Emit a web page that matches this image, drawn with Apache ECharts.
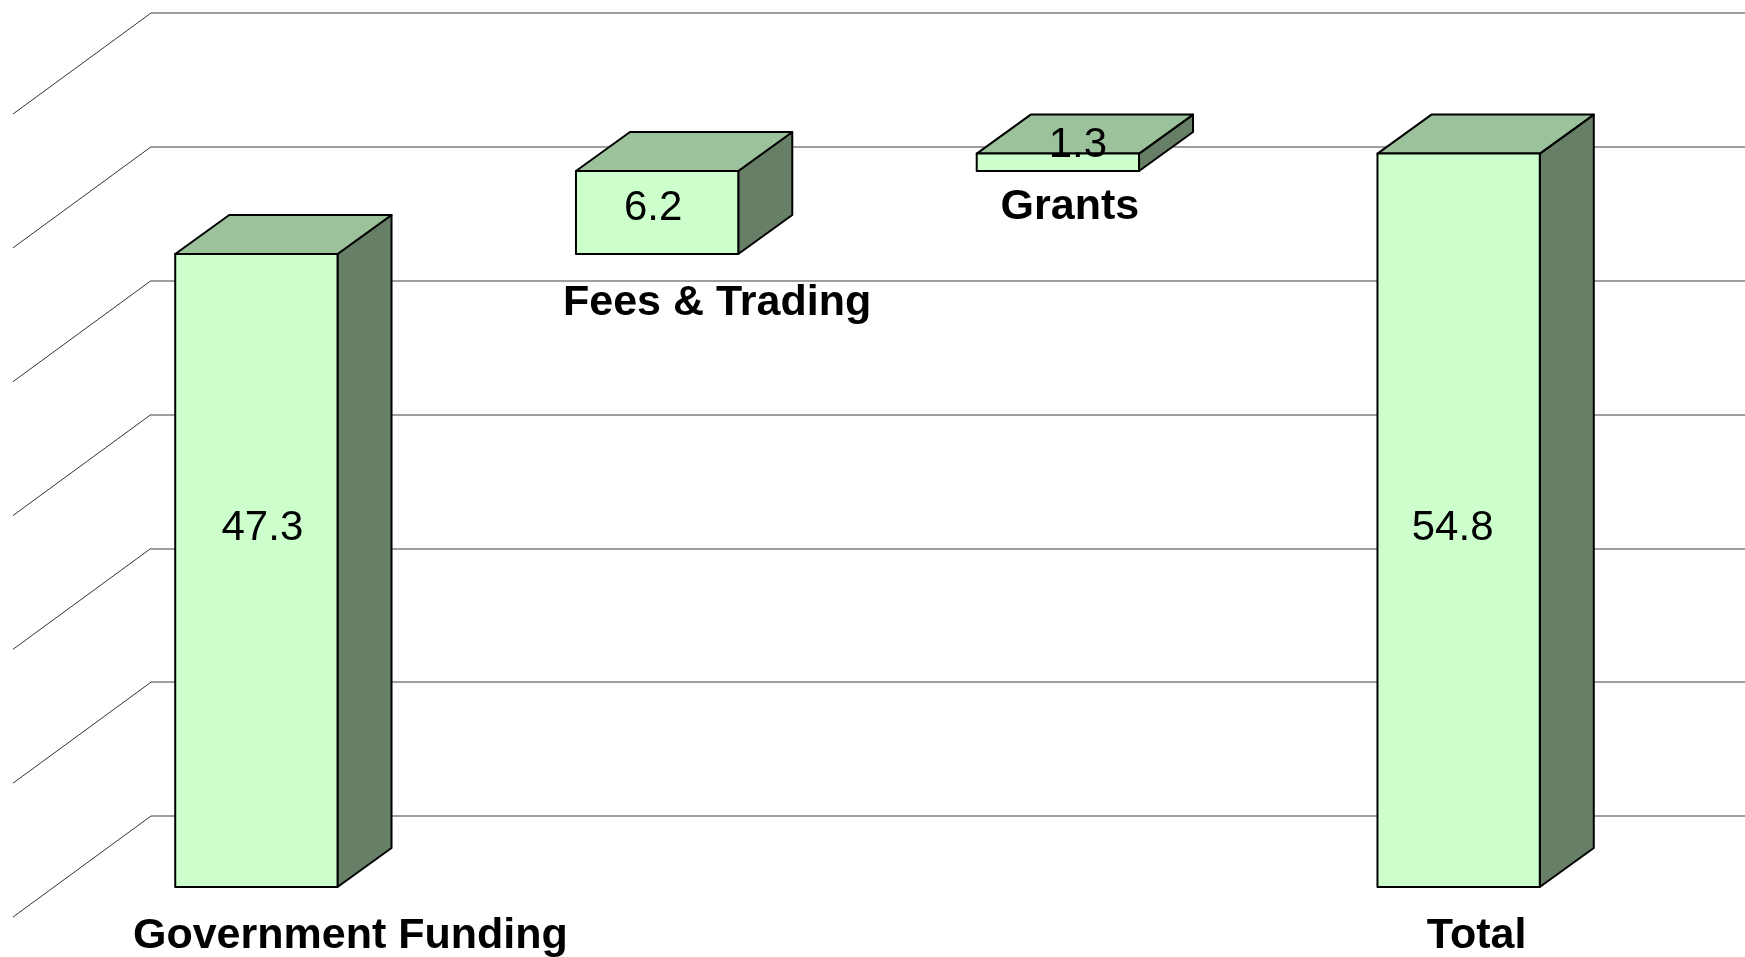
<!DOCTYPE html>
<html lang="en">
<head>
<meta charset="UTF-8">
<title>Funding waterfall</title>
<script src="https://cdn.jsdelivr.net/npm/echarts@6/dist/echarts.min.js"></script>
<style>
    html, body { margin: 0; padding: 0; background: #fff; }
    #main { width: 1745px; height: 957px; }
</style>
</head>
<body>
<div id="main"></div>
<script type="text/javascript">
    // chart data
    var categories = ['Government Funding', 'Fees & Trading', 'Grants', 'Total'];
    var amounts = [47.3, 6.2, 1.3, 54.8];
    var isTotal = [false, false, false, true];
    var gridTicks = [0, 10, 20, 30, 40, 50, 60];

    // the original labels were nudged by hand, so keep their offsets (px)
    var valueLabelShift = [[6, -42], [-4, -4], [20, -17], [-6, 8]];
    var nameLabelShift = [[94, 49], [60, 49], [12, 36], [18, 49]];

    var depthX = 54, depthY = 39;   // box depth
    var wallX = 138, wallY = 101;   // side wall depth

    // waterfall pieces: each floating bar starts where the previous ended
    var bars = [];
    var running = 0;
    amounts.forEach(function (v, i) {
        if (isTotal[i]) {
            bars.push([i, 0, v]);
        } else {
            bars.push([i, running, running + v]);
            running += v;
        }
    });

    var FONT = '"Liberation Sans", Arial, sans-serif';

    function renderBar(params, api) {
        var i = api.value(0);
        var lo = api.coord([i, api.value(1)]);
        var hi = api.coord([i, api.value(2)]);
        var w = api.size([1, 0])[0] * 0.405;
        var x0 = lo[0] - w / 2, x1 = lo[0] + w / 2;
        var yTop = hi[1], yBot = lo[1];
        var edge = { stroke: '#000', lineWidth: 2, lineJoin: 'round' };
        var vs = valueLabelShift[i], ns = nameLabelShift[i];
        return {
            type: 'group',
            children: [
                {
                    type: 'polygon',
                    shape: { points: [[x1, yTop], [x1 + depthX, yTop - depthY], [x1 + depthX, yBot - depthY], [x1, yBot]] },
                    style: Object.assign({ fill: '#667f66' }, edge)
                },
                {
                    type: 'polygon',
                    shape: { points: [[x0, yTop], [x0 + depthX, yTop - depthY], [x1 + depthX, yTop - depthY], [x1, yTop]] },
                    style: Object.assign({ fill: '#9cc29c' }, edge)
                },
                {
                    type: 'rect',
                    shape: { x: x0, y: yTop, width: w, height: yBot - yTop },
                    style: Object.assign({ fill: '#ccffcc' }, edge)
                },
                {
                    type: 'text',
                    x: lo[0] + vs[0],
                    y: (yTop + yBot) / 2 + vs[1],
                    style: {
                        text: amounts[i].toFixed(1),
                        font: '42px ' + FONT,
                        fill: '#000',
                        align: 'center',
                        verticalAlign: 'middle'
                    }
                },
                {
                    type: 'text',
                    x: lo[0] + ns[0],
                    y: yBot + ns[1],
                    style: {
                        text: categories[i],
                        font: 'bold 43px ' + FONT,
                        fill: '#000',
                        align: 'center',
                        verticalAlign: 'middle'
                    }
                }
            ]
        };
    }

    function renderWallEdge(params, api) {
        var p = api.coord([0, api.value(1)]);
        return {
            type: 'line',
            shape: { x1: p[0], y1: p[1], x2: p[0] - wallX, y2: p[1] + wallY },
            style: { stroke: '#333', lineWidth: 1 }
        };
    }

    var chartDom = document.getElementById('main');
    var myChart = echarts.init(chartDom);
    var option = {
        animation: false,
        grid: [
            { left: 56, right: 86, top: 84, bottom: 70 },   // bar front faces
            { left: 151, right: 0, top: 13, bottom: 141 }   // back wall
        ],
        xAxis: [
            { type: 'category', gridIndex: 0, data: categories, show: false },
            { type: 'value', gridIndex: 1, min: 0, max: 1, show: false }
        ],
        yAxis: [
            { type: 'value', gridIndex: 0, min: 0, max: 60, interval: 10, show: false },
            {
                type: 'value', gridIndex: 1, min: 0, max: 60, interval: 10,
                axisLine: { show: false },
                axisTick: { show: false },
                axisLabel: { show: false },
                splitLine: { show: true, lineStyle: { color: '#7f7f7f', width: 1.5 } }
            }
        ],
        series: [
            {
                type: 'custom',
                xAxisIndex: 1,
                yAxisIndex: 1,
                renderItem: renderWallEdge,
                data: gridTicks.map(function (t) { return [0, t]; }),
                silent: true
            },
            {
                type: 'custom',
                xAxisIndex: 0,
                yAxisIndex: 0,
                renderItem: renderBar,
                encode: { x: 0, y: [1, 2] },
                data: bars,
                z: 5
            }
        ]
    };

    option && myChart.setOption(option);
</script>
</body>
</html>
